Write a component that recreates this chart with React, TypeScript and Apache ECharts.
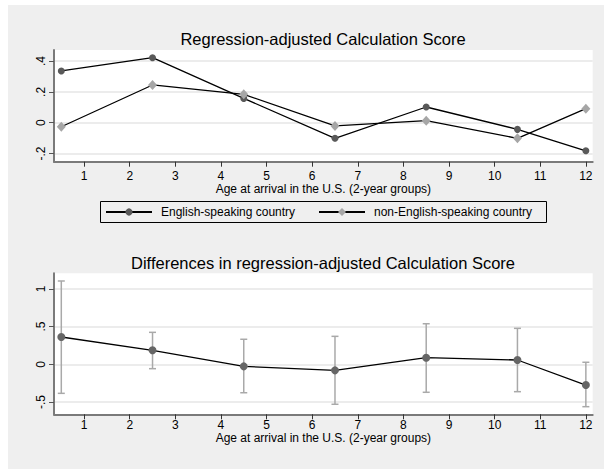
import React, { useEffect, useRef } from "react";
import * as echarts from "echarts";

const xGroups = [0.5, 2.5, 4.5, 6.5, 8.5, 10.5, 12];
const xTicks = [1, 2, 3, 4, 5, 6, 7, 8, 9, 10, 11, 12];
const englishScores = [0.336, 0.422, 0.158, -0.101, 0.102, -0.043, -0.182];
const nonEnglishScores = [-0.026, 0.245, 0.184, -0.021, 0.013, -0.101, 0.091];
const diffValues = [0.362, 0.186, -0.027, -0.08, 0.088, 0.057, -0.275];
const diffUpper = [1.105, 0.424, 0.332, 0.371, 0.538, 0.477, 0.027];
const diffLower = [-0.385, -0.058, -0.377, -0.53, -0.371, -0.363, -0.562];
const topYTicks = [-0.2, 0, 0.2, 0.4];
const bottomYTicks = [-0.5, 0, 0.5, 1];

const topTitle = "Regression-adjusted Calculation Score";
const bottomTitle = "Differences in regression-adjusted Calculation Score";
const xName = "Age at arrival in the U.S. (2-year groups)";
const seriesNames = ["English-speaking country", "non-English-speaking country"];

const FONT = "Liberation Sans";

function fmt(v: number): string {
  if (Math.abs(v) < 1e-9) return "0";
  const s = String(Math.round(v * 100) / 100);
  return s.replace(/^(-?)0\./, "$1.");
}

function xAxisDef(gridIndex: number, labelMargin: number, nameGap: number) {
  return {
    type: "value",
    gridIndex,
    min: 0.34,
    max: 12.15,
    name: xName,
    nameLocation: "middle",
    nameGap,
    nameTextStyle: { fontSize: 12, color: "#000", fontFamily: FONT },
    axisLine: { show: true, onZero: false, lineStyle: { color: "#7a7a7a", width: 2 } },
    axisTick: { show: true, length: 5, customValues: xTicks, lineStyle: { color: "#333", width: 1 } },
    axisLabel: { customValues: xTicks, margin: labelMargin, fontSize: 12, color: "#000", fontFamily: FONT },
    splitLine: { show: false },
  };
}

function yAxisDef(gridIndex: number, min: number, max: number, ticks: number[]) {
  return {
    type: "value",
    gridIndex,
    min,
    max,
    axisLine: { show: true, lineStyle: { color: "#7a7a7a", width: 2 } },
    axisTick: { show: true, length: 5, customValues: ticks, lineStyle: { color: "#555", width: 1 } },
    axisLabel: {
      customValues: ticks,
      rotate: 90,
      margin: 7,
      fontSize: 12,
      color: "#000",
      fontFamily: FONT,
      formatter: (v: number) => fmt(v),
    },
    splitLine: { show: true, lineStyle: { color: "#e6e6e6", width: 1.5 } },
  };
}

export default function App() {
  const ref = useRef<HTMLDivElement>(null);

  useEffect(() => {
    if (!ref.current) return;
    const chart = echarts.init(ref.current, undefined, { renderer: "svg" });
    const errData = xGroups.map((x, i) => [x, diffLower[i], diffUpper[i]]);
    const option: any = {
      animation: false,
      backgroundColor: "transparent",
      textStyle: { fontFamily: FONT },
      grid: [
        { left: 54, top: 50, width: 538.7, height: 111.7, show: true, backgroundColor: "#fff", borderWidth: 0 },
        { left: 54, top: 273.3, width: 538.7, height: 141, show: true, backgroundColor: "#fff", borderWidth: 0 },
      ],
      xAxis: [xAxisDef(0, 8, 20), xAxisDef(1, 5, 17)],
      yAxis: [
        yAxisDef(0, -0.253, 0.472, topYTicks),
        yAxisDef(1, -0.663, 1.207, bottomYTicks),
      ],
      legend: [
        {
          data: [seriesNames[0]],
          left: 105,
          top: 206,
          padding: 0,
          itemWidth: 46,
          itemHeight: 9,
          textStyle: { fontSize: 12, color: "#000", fontFamily: FONT, padding: [0, 0, 0, 4] },
        },
        {
          data: [seriesNames[1]],
          left: 318,
          top: 206,
          padding: 0,
          itemWidth: 46,
          itemHeight: 10,
          textStyle: { fontSize: 12, color: "#000", fontFamily: FONT, padding: [0, 0, 0, 4] },
        },
      ],
      graphic: [
        {
          type: "text",
          x: 323,
          y: 39,
          style: { text: topTitle, font: `16.5px "${FONT}"`, fill: "#000", align: "center", verticalAlign: "middle" },
        },
        {
          type: "text",
          x: 323,
          y: 263,
          style: { text: bottomTitle, font: `16.5px "${FONT}"`, fill: "#000", align: "center", verticalAlign: "middle" },
        },
        {
          type: "rect",
          shape: { x: 100.5, y: 201.5, width: 446, height: 21 },
          style: { fill: "none", stroke: "#000", lineWidth: 1 },
          silent: true,
        },
      ],
      series: [
        {
          type: "line",
          name: seriesNames[0],
          xAxisIndex: 0,
          yAxisIndex: 0,
          data: xGroups.map((x, i) => [x, englishScores[i]]),
          symbol: "circle",
          symbolSize: 7,
          itemStyle: { color: "#595959" },
          lineStyle: { color: "#000", width: 1.3 },
          z: 3,
        },
        {
          type: "line",
          name: seriesNames[1],
          xAxisIndex: 0,
          yAxisIndex: 0,
          data: xGroups.map((x, i) => [x, nonEnglishScores[i]]),
          symbol: "diamond",
          symbolSize: [9, 10],
          itemStyle: { color: "#a6a6a6" },
          lineStyle: { color: "#000", width: 1.3 },
          z: 3,
        },
        {
          type: "custom",
          name: "CI",
          xAxisIndex: 1,
          yAxisIndex: 1,
          data: errData,
          encode: { x: 0, y: [1, 2] },
          z: 2,
          renderItem: (params: any, api: any) => {
            const x = api.value(0);
            const pLo = api.coord([x, api.value(1)]);
            const pHi = api.coord([x, api.value(2)]);
            const w = 3.5;
            const style = { stroke: "#a9a9a9", lineWidth: 1.5 };
            return {
              type: "group",
              children: [
                { type: "line", shape: { x1: pHi[0], y1: pHi[1], x2: pLo[0], y2: pLo[1] }, style },
                { type: "line", shape: { x1: pHi[0] - w, y1: pHi[1], x2: pHi[0] + w, y2: pHi[1] }, style },
                { type: "line", shape: { x1: pLo[0] - w, y1: pLo[1], x2: pLo[0] + w, y2: pLo[1] }, style },
              ],
            };
          },
        },
        {
          type: "line",
          name: "Difference",
          xAxisIndex: 1,
          yAxisIndex: 1,
          data: xGroups.map((x, i) => [x, diffValues[i]]),
          symbol: "circle",
          symbolSize: 8,
          itemStyle: { color: "#666" },
          lineStyle: { color: "#000", width: 1.3 },
          z: 4,
        },
      ],
    };
    chart.setOption(option);
    return () => chart.dispose();
  }, []);

  return (
    <div style={{ position: "fixed", left: 0, top: 0, width: 604, height: 469, background: "#fff" }}>
      <div style={{ position: "absolute", left: 8, top: 5, right: 0, bottom: 0, background: "#efefef" }} />
      <div ref={ref} style={{ position: "absolute", left: 0, top: 0, width: 604, height: 469 }} />
    </div>
  );
}
